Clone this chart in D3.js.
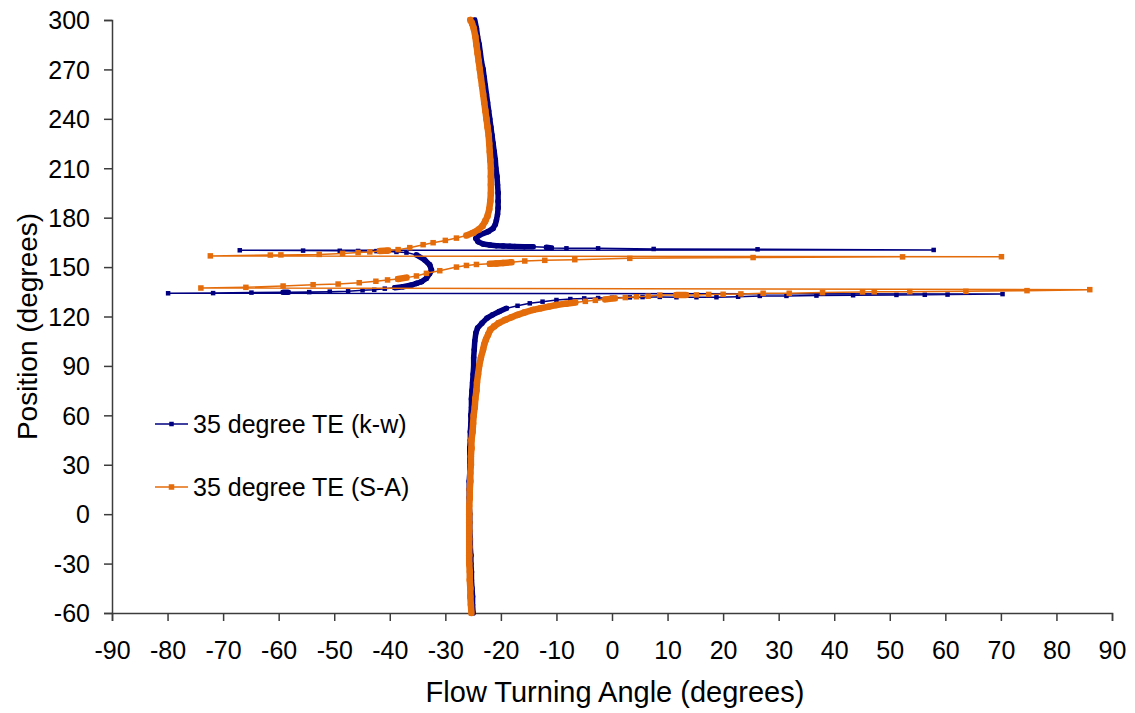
<!DOCTYPE html>
<html>
<head>
<meta charset="utf-8">
<script src="https://cdn.jsdelivr.net/npm/d3@7"></script>
<style>
  html, body { margin: 0; padding: 0; background: #ffffff; }
  svg { display: block; }
  text { font-family: "Liberation Sans", Arial, sans-serif; fill: #000; }
</style>
</head>
<body>
<svg id="chart" width="1135" height="713"></svg>
<script>
// ---------------- data ----------------
const xTicks = [-90,-80,-70,-60,-50,-40,-30,-20,-10,0,10,20,30,40,50,60,70,80,90];
const yTicks = [-60,-30,0,30,60,90,120,150,180,210,240,270,300];

const seriesNames = ["35 degree TE (k-w)", "35 degree TE (S-A)"];

// k-w : flow turning angle (x) and position (y), in drawing order
const kwAngle = [
  -25.0,-25.1,-25.1,-25.2,-25.3,-25.3,-25.4,-25.4,-25.5,-25.5,-25.6,-25.6,-25.6,-25.7,-25.7,-25.7,-25.7,-25.6,-25.6,-25.6,
  -25.6,-25.5,-25.5,-25.4,-25.4,-25.3,-25.3,-25.2,-25.1,-25.0,-24.9,-24.9,-24.8,-24.7,-24.5,-24.2,-23.4,-22.5,-21.5,-20.3,
  -19.0,-17.0,-14.8,-12.5,-10.0,-7.5,-5.0,-2.5,0.0,3.2,5.5,8.6,11.6,15.2,18.8,22.7,26.6,31.4,36.8,43.4,
  51.2,56.3,60.4,70.3,
  -79.9,-71.8,-64.9,-59.2,-58.3,-54.5,-50.8,-47.5,-44.9,-42.8,-40.9,-39.1,-37.6,-36.1,-35.2,-34.3,-33.4,-32.8,-32.5,-32.8,
  -33.7,-35.2,-37.0,-38.8,-40.6,-42.4,-45.7,-49.0,-55.6,-67.0,
  57.9,26.2,7.5,-2.5,-8.2,-10.9,-11.8,-14.2,-15.8,-17.5,-18.4,-19.6,-20.8,-22.0,-23.2,-24.1,-24.5,-23.8,-22.3,-21.4,
  -21.0,-20.8,-20.6,-20.5,-20.5,-20.5,-20.6,-20.7,-20.9,-21.0,-21.2,-21.4,-21.6,-21.8,-22.0,-22.2,-22.4,-22.6,-22.8,-23.0,
  -23.2,-23.5,-23.7,-23.9,-24.2,-24.4,-24.7
];
const kwPos = [
  -60,-55,-50,-45,-40,-35,-30,-25,-20,-15,-10,-5,0,5,10,15,20,25,30,35,
  40,45,50,55,60,65,70,75,80,85,90,95,100,105,110,113,116,119,121,123,
  125,126.5,128,129,130,130.6,131,131.2,131.4,131.6,131.8,131.9,131.7,131.7,131.7,132.0,132.5,132.5,132.7,132.9,
  133.1,133.2,133.3,133.6,
  134.1,134.2,134.5,134.7,134.7,134.8,135.1,135.3,135.9,136.2,136.9,137.5,138.1,139.1,140.1,141.1,143.2,146.2,148.2,151.3,
  154.3,157.4,158.8,159.2,159.6,159.7,159.8,159.9,160.0,160.2,
  160.4,160.8,161.0,161.4,161.4,161.6,162.0,162.3,162.4,162.5,162.6,162.8,163.0,163.4,164.0,165.4,167.4,169.5,171.5,173.5,
  176,178.6,182,186,190,195,200,205,210,215,220,225,230,235,240,245,250,255,260,265,
  270,275,280,285,290,295,300
];

// S-A : flow turning angle (x) and position (y), in drawing order
const saAngle = [
  -25.3,-25.4,-25.5,-25.5,-25.6,-25.6,-25.7,-25.7,-25.7,-25.7,-25.7,-25.7,-25.7,-25.7,-25.6,-25.6,-25.5,-25.5,-25.4,-25.4,
  -25.3,-25.3,-25.1,-25.0,-24.9,-24.7,-24.6,-24.4,-24.3,-24.1,-23.9,-23.6,-23.2,-23.0,-22.7,-22.3,-21.9,-21.2,-20.4,-19.2,
  -18.1,-17.0,-15.7,-14.2,-12.8,-11.4,-10.0,-8.3,-6.6,-4.8,-3.0,-1.2,0.5,2.4,4.4,6.5,8.6,11.6,13.3,15.2,
  17.4,20.0,23.2,27.2,31.9,37.9,45.1,47.2,53.6,63.7,74.7,86.0,
  -74.0,-65.9,-59.2,-53.8,-49.3,-45.5,-42.5,-40.4,-38.5,-37.0,-35.2,-33.4,-31.0,-28.0,-26.2,-24.4,-22.0,-20.8,-19.6,-18.1,
  -15.7,-12.1,-6.7,3.2,25.4,52.3,70.1,
  -72.3,-61.5,-59.6,-52.7,-48.5,-45.7,-43.6,-41.8,-40.3,-38.5,-36.4,-34.0,-32.2,-30.0,-28.0,-26.2,-25.0,-24.0,-23.3,-22.8,
  -22.4,-22.1,-21.9,-21.8,-21.8,-21.8,-21.8,-21.9,-22.0,-22.1,-22.2,-22.4,-22.6,-22.8,-23.0,-23.2,-23.4,-23.6,-23.8,-24.0,
  -24.2,-24.4,-24.6,-24.9,-25.2,-25.5
];
const saPos = [
  -60,-55,-50,-45,-40,-35,-30,-25,-20,-15,-10,-5,0,5,10,15,20,25,30,35,
  40,45,50,55,60,65,70,75,80,85,90,95,100,103,106,109,112,114,116,118,
  119.5,121,122.5,124,125,126,127,127.8,128.5,129.2,129.8,130.4,131.0,131.5,132.0,132.3,133.0,133.1,133.1,133.1,
  133.4,133.5,133.7,134.1,134.1,134.5,134.9,135.0,135.1,135.3,135.7,136.3,
  137.3,137.7,138.5,139.3,139.7,140.5,141.4,142.2,142.8,143.6,144.6,146.2,147.8,150.0,151.0,151.6,152.0,152.2,152.5,152.9,
  153.7,154.1,154.5,155.3,155.8,156.2,156.3,
  156.8,157.3,157.4,157.7,158.3,158.8,159.2,159.7,160.1,160.6,161.8,163.6,164.8,166.2,167.6,169.2,170.8,172.8,175,178,
  181,185,190,195,200,205,210,215,220,225,230,235,240,245,250,255,260,265,270,275,
  280,285,290,295,298,300
];

// ---------------- drawing ----------------
const svg = d3.select("#chart");
const plot = { left: 112, right: 1112, top: 20, bottom: 613 };

const x = d3.scaleLinear().domain([-90, 90]).range([plot.left, plot.right]);
const y = d3.scaleLinear().domain([-60, 300]).range([plot.bottom, plot.top]);

const axisColor = "#3c3c3c";
const fmt = d => String(d);

// axes
const xAxis = svg.append("g")
  .attr("transform", `translate(0,${plot.bottom})`)
  .call(d3.axisBottom(x).tickValues(xTicks).tickSize(8).tickPadding(20).tickFormat(fmt));
const yAxis = svg.append("g")
  .attr("transform", `translate(${plot.left},0)`)
  .call(d3.axisLeft(y).tickValues(yTicks).tickSize(8).tickPadding(14).tickFormat(fmt));

[xAxis, yAxis].forEach(g => {
  g.select(".domain").attr("stroke", axisColor).attr("stroke-width", 1.5);
  g.selectAll(".tick line").attr("stroke", axisColor).attr("stroke-width", 1.5);
  g.selectAll(".tick text")
    .style("font-family", '"Liberation Sans", Arial, sans-serif')
    .style("font-size", "25px")
    .attr("fill", "#000");
});
xAxis.selectAll(".tick text").attr("dy", "0.71em");
yAxis.selectAll(".tick text").attr("dy", "0.35em");

// axis titles
svg.append("text")
  .attr("x", x(0) + 3)
  .attr("y", 702)
  .attr("text-anchor", "middle")
  .style("font-size", "29px")
  .text("Flow Turning Angle (degrees)");

svg.append("text")
  .attr("transform", `translate(37,${(plot.top + plot.bottom) / 2 + 10}) rotate(-90)`)
  .attr("text-anchor", "middle")
  .style("font-size", "28px")
  .text("Position (degrees)");

// series
const series = [
  { name: seriesNames[0], xs: kwAngle, ys: kwPos, color: "#000080", band: 5.5, marker: 4.5 },
  { name: seriesNames[1], xs: saAngle, ys: saPos, color: "#E46C0A", band: 6.5, marker: 5.5 }
];

const line = d3.line().x(d => x(d[0])).y(d => y(d[1]));

series.forEach(s => {
  const pts = s.xs.map((v, i) => [v, s.ys[i]]);
  const g = svg.append("g");
  // thin connecting line
  g.append("path")
    .attr("d", line(pts))
    .attr("fill", "none")
    .attr("stroke", s.color)
    .attr("stroke-width", 1.5)
    .attr("stroke-linejoin", "round");
  // where consecutive markers overlap, they merge into a thick band
  for (let i = 1; i < pts.length; i++) {
    const x0 = x(pts[i-1][0]), y0 = y(pts[i-1][1]);
    const x1 = x(pts[i][0]), y1 = y(pts[i][1]);
    const dist = Math.hypot(x1 - x0, y1 - y0);
    if (dist < 10) {
      g.append("line")
        .attr("x1", x0).attr("y1", y0).attr("x2", x1).attr("y2", y1)
        .attr("stroke", s.color)
        .attr("stroke-width", s.band)
        .attr("stroke-linecap", "round");
    }
  }
  // square markers
  g.selectAll("rect.m")
    .data(pts)
    .join("rect")
    .attr("class", "m")
    .attr("x", d => x(d[0]) - s.marker / 2)
    .attr("y", d => y(d[1]) - s.marker / 2)
    .attr("width", s.marker)
    .attr("height", s.marker)
    .attr("fill", s.color);
});

// legend
const legend = svg.append("g");
const legendY = [424, 487];
series.forEach((s, i) => {
  const gy = legendY[i];
  legend.append("line")
    .attr("x1", 155).attr("x2", 188).attr("y1", gy).attr("y2", gy)
    .attr("stroke", s.color).attr("stroke-width", 1.5);
  legend.append("rect")
    .attr("x", 171.5 - s.marker / 2).attr("y", gy - s.marker / 2)
    .attr("width", s.marker).attr("height", s.marker)
    .attr("fill", s.color);
  legend.append("text")
    .attr("x", 193).attr("y", gy)
    .attr("dy", "0.35em")
    .style("font-size", "25px")
    .text(s.name);
});
</script>
</body>
</html>
